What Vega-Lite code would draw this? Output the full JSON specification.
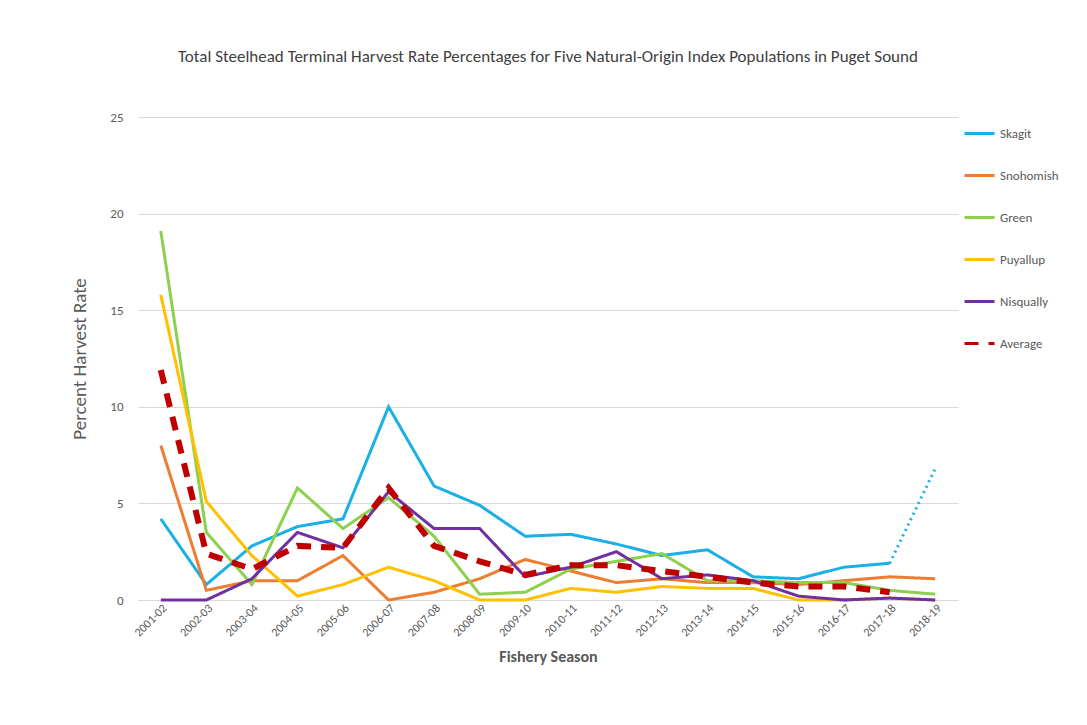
{
  "$schema": "https://vega.github.io/schema/vega-lite/v6.json",
  "width": 1087, "height": 725,
  "autosize": {"type": "fit", "contains": "padding"},
  "padding": {"top": 48, "left": 70, "right": 28, "bottom": 60},
  "config": {"view": {"stroke": null}, "font": "Calibri, Liberation Sans, sans-serif"},
  "title": {"text": "Total Steelhead Terminal Harvest Rate Percentages for Five Natural-Origin Index Populations in Puget Sound", "fontSize": 17, "fontWeight": "normal", "color": "#404040", "offset": 45},
  "datasets": {
    "main": [
      {"season":"2001-02","s":"Skagit","v":4.2},{"season":"2002-03","s":"Skagit","v":0.8},{"season":"2003-04","s":"Skagit","v":2.8},{"season":"2004-05","s":"Skagit","v":3.8},{"season":"2005-06","s":"Skagit","v":4.2},{"season":"2006-07","s":"Skagit","v":10},{"season":"2007-08","s":"Skagit","v":5.9},{"season":"2008-09","s":"Skagit","v":4.9},{"season":"2009-10","s":"Skagit","v":3.3},{"season":"2010-11","s":"Skagit","v":3.4},{"season":"2011-12","s":"Skagit","v":2.9},{"season":"2012-13","s":"Skagit","v":2.3},{"season":"2013-14","s":"Skagit","v":2.6},{"season":"2014-15","s":"Skagit","v":1.2},{"season":"2015-16","s":"Skagit","v":1.1},{"season":"2016-17","s":"Skagit","v":1.7},{"season":"2017-18","s":"Skagit","v":1.9},
      {"season":"2001-02","s":"Snohomish","v":8.0},{"season":"2002-03","s":"Snohomish","v":0.5},{"season":"2003-04","s":"Snohomish","v":1.0},{"season":"2004-05","s":"Snohomish","v":1.0},{"season":"2005-06","s":"Snohomish","v":2.3},{"season":"2006-07","s":"Snohomish","v":0},{"season":"2007-08","s":"Snohomish","v":0.4},{"season":"2008-09","s":"Snohomish","v":1.1},{"season":"2009-10","s":"Snohomish","v":2.1},{"season":"2010-11","s":"Snohomish","v":1.5},{"season":"2011-12","s":"Snohomish","v":0.9},{"season":"2012-13","s":"Snohomish","v":1.1},{"season":"2013-14","s":"Snohomish","v":0.9},{"season":"2014-15","s":"Snohomish","v":0.9},{"season":"2015-16","s":"Snohomish","v":0.8},{"season":"2016-17","s":"Snohomish","v":1.0},{"season":"2017-18","s":"Snohomish","v":1.2},{"season":"2018-19","s":"Snohomish","v":1.1},
      {"season":"2001-02","s":"Green","v":19.1},{"season":"2002-03","s":"Green","v":3.5},{"season":"2003-04","s":"Green","v":0.8},{"season":"2004-05","s":"Green","v":5.8},{"season":"2005-06","s":"Green","v":3.7},{"season":"2006-07","s":"Green","v":5.3},{"season":"2007-08","s":"Green","v":3.3},{"season":"2008-09","s":"Green","v":0.3},{"season":"2009-10","s":"Green","v":0.4},{"season":"2010-11","s":"Green","v":1.6},{"season":"2011-12","s":"Green","v":2.0},{"season":"2012-13","s":"Green","v":2.4},{"season":"2013-14","s":"Green","v":1.0},{"season":"2014-15","s":"Green","v":1.0},{"season":"2015-16","s":"Green","v":0.9},{"season":"2016-17","s":"Green","v":0.9},{"season":"2017-18","s":"Green","v":0.5},{"season":"2018-19","s":"Green","v":0.3},
      {"season":"2001-02","s":"Puyallup","v":15.8},{"season":"2002-03","s":"Puyallup","v":5.1},{"season":"2003-04","s":"Puyallup","v":2.3},{"season":"2004-05","s":"Puyallup","v":0.2},{"season":"2005-06","s":"Puyallup","v":0.8},{"season":"2006-07","s":"Puyallup","v":1.7},{"season":"2007-08","s":"Puyallup","v":1.0},{"season":"2008-09","s":"Puyallup","v":0},{"season":"2009-10","s":"Puyallup","v":0},{"season":"2010-11","s":"Puyallup","v":0.6},{"season":"2011-12","s":"Puyallup","v":0.4},{"season":"2012-13","s":"Puyallup","v":0.7},{"season":"2013-14","s":"Puyallup","v":0.6},{"season":"2014-15","s":"Puyallup","v":0.6},{"season":"2015-16","s":"Puyallup","v":0},{"season":"2016-17","s":"Puyallup","v":0},{"season":"2017-18","s":"Puyallup","v":0.1},{"season":"2018-19","s":"Puyallup","v":0},
      {"season":"2001-02","s":"Nisqually","v":0},{"season":"2002-03","s":"Nisqually","v":0},{"season":"2003-04","s":"Nisqually","v":1.1},{"season":"2004-05","s":"Nisqually","v":3.5},{"season":"2005-06","s":"Nisqually","v":2.7},{"season":"2006-07","s":"Nisqually","v":5.6},{"season":"2007-08","s":"Nisqually","v":3.7},{"season":"2008-09","s":"Nisqually","v":3.7},{"season":"2009-10","s":"Nisqually","v":1.2},{"season":"2010-11","s":"Nisqually","v":1.7},{"season":"2011-12","s":"Nisqually","v":2.5},{"season":"2012-13","s":"Nisqually","v":1.1},{"season":"2013-14","s":"Nisqually","v":1.3},{"season":"2014-15","s":"Nisqually","v":1.0},{"season":"2015-16","s":"Nisqually","v":0.2},{"season":"2016-17","s":"Nisqually","v":0},{"season":"2017-18","s":"Nisqually","v":0.1},{"season":"2018-19","s":"Nisqually","v":0}
    ],
    "avg": [
      {"season":"2001-02","s":"Average","v":11.9},{"season":"2002-03","s":"Average","v":2.4},{"season":"2003-04","s":"Average","v":1.6},{"season":"2004-05","s":"Average","v":2.8},{"season":"2005-06","s":"Average","v":2.7},{"season":"2006-07","s":"Average","v":5.8},{"season":"2007-08","s":"Average","v":2.8},{"season":"2008-09","s":"Average","v":2.0},{"season":"2009-10","s":"Average","v":1.3},{"season":"2010-11","s":"Average","v":1.8},{"season":"2011-12","s":"Average","v":1.8},{"season":"2012-13","s":"Average","v":1.5},{"season":"2013-14","s":"Average","v":1.2},{"season":"2014-15","s":"Average","v":0.9},{"season":"2015-16","s":"Average","v":0.7},{"season":"2016-17","s":"Average","v":0.7},{"season":"2017-18","s":"Average","v":0.4}
    ],
    "proj": [
      {"season":"2017-18","v":1.9},{"season":"2018-19","v":6.8}
    ]
  },
  "encoding": {
    "x": {"field": "season", "type": "ordinal", "scale": {"type": "point", "padding": 0.5},
      "axis": {"title": "Fishery Season", "titleFontSize": 16, "titleColor": "#595959", "labelAngle": -45, "labelFontSize": 12, "labelColor": "#595959", "domainColor": "#d9d9d9", "ticks": false, "titlePadding": 10}},
    "y": {"field": "v", "type": "quantitative", "scale": {"domain": [0, 25]},
      "axis": {"title": "Percent Harvest Rate", "titleFontSize": 19, "titleFontWeight": "normal", "titleColor": "#595959", "values": [0,5,10,15,20,25], "labelFontSize": 13, "labelColor": "#595959", "domain": false, "ticks": false, "gridColor": "#d9d9d9", "labelPadding": 15, "titlePadding": 20}}
  },
  "layer": [
    {
      "data": {"name": "main"},
      "mark": {"type": "line", "strokeWidth": 3},
      "encoding": {
        "color": {"field": "s", "type": "nominal", "title": null,
          "scale": {"domain": ["Skagit","Snohomish","Green","Puyallup","Nisqually","Average"], "range": ["#1aafe6","#ed7d31","#8dcf4e","#ffc000","#7030a0","#c00000"]},
          "legend": {"orient": "right", "symbolType": "stroke", "symbolSize": 900, "symbolStrokeWidth": 3, "labelFontSize": 13, "labelColor": "#595959", "rowPadding": 18, "offset": 5}},
        "strokeDash": {"field": "s", "type": "nominal",
          "scale": {"domain": ["Skagit","Snohomish","Green","Puyallup","Nisqually","Average"], "range": [[1,0],[1,0],[1,0],[1,0],[1,0],[14,10]]}}
      }
    },
    {
      "data": {"name": "avg"},
      "mark": {"type": "line", "strokeWidth": 6},
      "encoding": {
        "color": {"field": "s", "type": "nominal"},
        "strokeDash": {"field": "s", "type": "nominal"}
      }
    },
    {
      "data": {"name": "proj"},
      "mark": {"type": "line", "strokeWidth": 3, "strokeDash": [2, 4], "color": "#1aafe6"},
      "encoding": {}
    }
  ]
}
